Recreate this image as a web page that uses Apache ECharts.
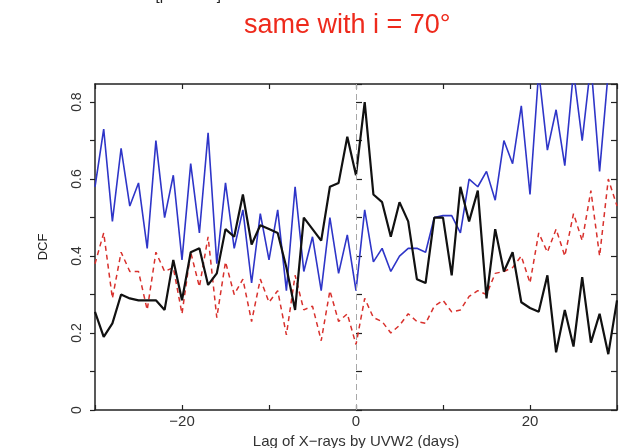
<!DOCTYPE html>
<html>
<head>
<meta charset="utf-8">
<script src="https://cdn.jsdelivr.net/npm/echarts@6/dist/echarts.min.js"></script>
<style>
  html, body { margin: 0; padding: 0; background: #fff; }
  #chart { width: 625px; height: 448px; }
</style>
</head>
<body>
<div id="chart"></div>
<script>
// Lag of X-rays by UVW2, in days
const lags = [
  -30, -29, -28, -27, -26, -25, -24, -23, -22, -21,
  -20, -19, -18, -17, -16, -15, -14, -13, -12, -11,
  -10, -9, -8, -7, -6, -5, -4, -3, -2, -1,
  0, 1, 2, 3, 4, 5, 6, 7, 8, 9,
  10, 11, 12, 13, 14, 15, 16, 17, 18, 19,
  20, 21, 22, 23, 24, 25, 26, 27, 28, 29, 30
];

// Observed DCF (solid black)
const dcfObserved = [
  0.255, 0.19, 0.225, 0.30, 0.29, 0.285, 0.285, 0.285, 0.26, 0.39,
  0.285, 0.41, 0.42, 0.325, 0.355, 0.47, 0.45, 0.56, 0.43, 0.48,
  0.47, 0.46, 0.37, 0.26, 0.50, 0.47, 0.44, 0.58, 0.59, 0.71,
  0.61, 0.80, 0.56, 0.54, 0.45, 0.54, 0.49, 0.34, 0.33, 0.50,
  0.50, 0.35, 0.58, 0.49, 0.57, 0.29, 0.47, 0.36, 0.41, 0.28,
  0.265, 0.255, 0.35, 0.15, 0.26, 0.165, 0.345, 0.175, 0.25, 0.145, 0.285
];

// Model DCF (solid blue)
const dcfModelA = [
  0.58, 0.73, 0.49, 0.68, 0.53, 0.59, 0.42, 0.70, 0.50, 0.61,
  0.39, 0.64, 0.46, 0.72, 0.38, 0.59, 0.42, 0.52, 0.33, 0.51,
  0.39, 0.52, 0.31, 0.58, 0.36, 0.45, 0.31, 0.50, 0.355, 0.455,
  0.31, 0.52, 0.385, 0.42, 0.36, 0.40, 0.42, 0.42, 0.41, 0.50,
  0.505, 0.505, 0.46, 0.60, 0.58, 0.62, 0.545, 0.70, 0.64, 0.79,
  0.56, 0.88, 0.675, 0.78, 0.635, 0.88, 0.70, 0.90, 0.62, 0.88, 0.90
];

// Model DCF (dashed red)
const dcfModelB = [
  0.38, 0.46, 0.29, 0.41, 0.36, 0.36, 0.26, 0.41, 0.36, 0.37,
  0.25, 0.41, 0.32, 0.45, 0.24, 0.385, 0.30, 0.34, 0.23, 0.34,
  0.28, 0.31, 0.195, 0.35, 0.26, 0.27, 0.18, 0.31, 0.23, 0.25,
  0.17, 0.29, 0.24, 0.23, 0.20, 0.22, 0.25, 0.23, 0.225, 0.27,
  0.285, 0.255, 0.26, 0.295, 0.31, 0.30, 0.355, 0.36, 0.37, 0.40,
  0.33, 0.46, 0.41, 0.47, 0.40, 0.51, 0.44, 0.57, 0.40, 0.60, 0.53
];

const xTickLabels = { '-20': '\u221220', '0': '0', '20': '20' };
const yTickLabels = { '0': '0', '0.2': '0.2', '0.4': '0.4', '0.6': '0.6', '0.8': '0.8' };

const pair = (vals) => lags.map((l, i) => [l, vals[i]]);

const FONT = '"Liberation Sans", Arial, Helvetica, sans-serif';
const AXIS_COLOR = '#222';
const Y_MAX = 0.847;

const chart = echarts.init(document.getElementById('chart'), null, { renderer: 'canvas' });

chart.setOption({
  animation: false,
  backgroundColor: '#ffffff',
  textStyle: { fontFamily: FONT },
  graphic: [
    { type: 'text', left: 128, top: -12,
      style: { text: 'lsrc [\u03bc arcsec]', fontSize: 15, fill: '#222', fontFamily: FONT } },
    { type: 'text', left: 417, top: -12,
      style: { text: 'km', fontSize: 15, fill: '#222', fontFamily: FONT } },
    { type: 'text', left: 244, top: 12,
      style: { text: 'same with i = 70\u00b0', fontSize: 27, fill: '#ee2a1c', fontFamily: FONT } }
  ],
  grid: { left: 95, right: 8, top: 84, bottom: 38, outerBoundsMode: 'none', containLabel: false },
  xAxis: [
    {
      type: 'value', position: 'bottom', min: -30, max: 30, interval: 10,
      name: 'Lag of X\u2212rays by UVW2 (days)', nameLocation: 'middle', nameGap: 19,
      nameTextStyle: { fontSize: 15, color: '#333', fontFamily: FONT },
      axisLine: { show: true, onZero: false, lineStyle: { color: AXIS_COLOR, width: 1.5 } },
      axisTick: { show: true, inside: true, length: 5, lineStyle: { color: AXIS_COLOR, width: 1.2 } },
      axisLabel: {
        fontSize: 15, color: '#333', margin: 4, fontFamily: FONT,
        formatter: (v) => xTickLabels[String(v)] || ''
      },
      splitLine: { show: false }
    },
    {
      type: 'value', position: 'top', min: -30, max: 30, interval: 10,
      axisLine: { show: true, onZero: false, lineStyle: { color: AXIS_COLOR, width: 1.5 } },
      axisTick: { show: true, inside: true, length: 5, lineStyle: { color: AXIS_COLOR, width: 1.2 } },
      axisLabel: { show: false },
      splitLine: { show: false }
    }
  ],
  yAxis: [
    {
      type: 'value', position: 'left', min: 0, max: Y_MAX, interval: 0.1,
      name: 'DCF', nameLocation: 'middle', nameGap: 45, nameRotate: 90,
      nameTextStyle: { fontSize: 13, color: '#222', fontFamily: FONT },
      axisLine: { show: true, onZero: false, lineStyle: { color: AXIS_COLOR, width: 1.5 } },
      axisTick: { show: true, inside: false, length: 5, lineStyle: { color: AXIS_COLOR, width: 1.2 } },
      axisLabel: {
        rotate: 90, fontSize: 14, color: '#333', margin: 11, fontFamily: FONT,
        showMaxLabel: false,
        formatter: (v) => yTickLabels[String(Math.round(v * 10) / 10)] || ''
      },
      splitLine: { show: false }
    },
    {
      type: 'value', position: 'right', min: 0, max: Y_MAX, interval: 0.1,
      axisLine: { show: true, onZero: false, lineStyle: { color: AXIS_COLOR, width: 1.5 } },
      axisTick: { show: true, inside: true, length: 6, lineStyle: { color: AXIS_COLOR, width: 1.2 } },
      axisLabel: { show: false },
      splitLine: { show: false }
    },
    {
      type: 'value', position: 'left', min: 0, max: Y_MAX, interval: 0.1,
      axisLine: { show: false },
      axisTick: { show: true, inside: true, length: 6, lineStyle: { color: AXIS_COLOR, width: 1.2 } },
      axisLabel: { show: false },
      splitLine: { show: false }
    }
  ],
  series: [
    {
      name: 'model B', type: 'line', data: pair(dcfModelB), xAxisIndex: 0, yAxisIndex: 0,
      showSymbol: false, clip: true, z: 2,
      lineStyle: { color: '#d8302c', width: 1.5, type: [5, 4] },
      markLine: {
        silent: true, symbol: 'none', label: { show: false },
        lineStyle: { color: '#a8a8a8', width: 1, type: [6, 4] },
        data: [{ xAxis: 0 }]
      }
    },
    {
      name: 'model A', type: 'line', data: pair(dcfModelA), xAxisIndex: 0, yAxisIndex: 0,
      showSymbol: false, clip: true, z: 3,
      lineStyle: { color: '#2e35c8', width: 1.6 }
    },
    {
      name: 'observed', type: 'line', data: pair(dcfObserved), xAxisIndex: 0, yAxisIndex: 0,
      showSymbol: false, clip: true, z: 4,
      lineStyle: { color: '#111111', width: 2.2 }
    }
  ]
});
</script>
</body>
</html>
